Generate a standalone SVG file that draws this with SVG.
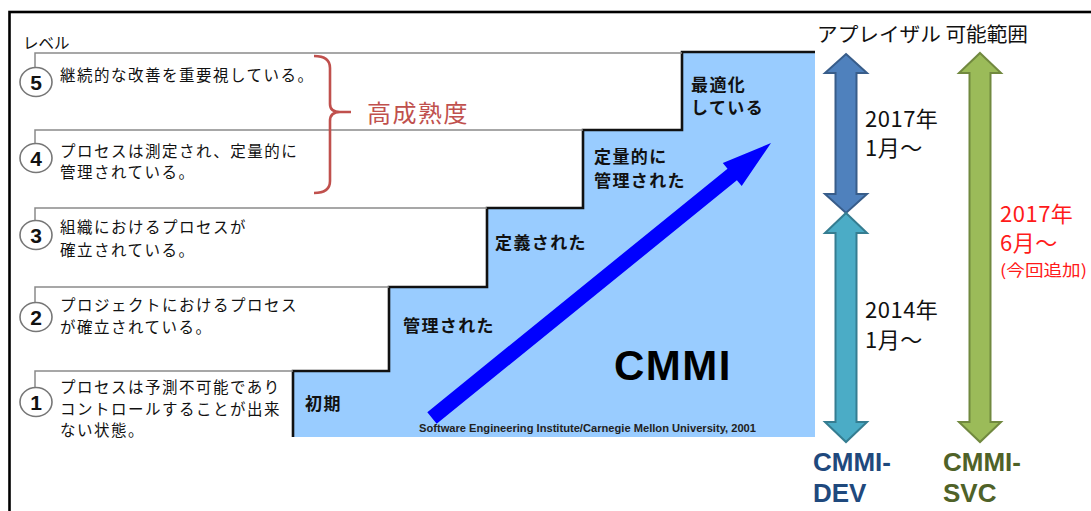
<svg xmlns="http://www.w3.org/2000/svg" width="1091" height="511" viewBox="0 0 1091 511">
<style>
.jp{font-family:'Noto Sans CJK JP',sans-serif;}
.lv{font-family:'Noto Sans CJK JP',sans-serif;font-size:15.5px;letter-spacing:1.5px;fill:#111;}
.st{font-family:'Noto Sans CJK JP',sans-serif;font-size:17px;font-weight:bold;letter-spacing:1.4px;fill:#111;}
.num{font-family:'Liberation Sans',Arial,sans-serif;font-size:21px;font-weight:bold;fill:#111;text-anchor:middle;}
.circ{fill:#fff;stroke:#777;stroke-width:1.6;}
.lvline{fill:none;stroke:#8a8a8a;stroke-width:1.5;}
.dt{font-family:'Noto Sans CJK JP',sans-serif;font-size:22px;fill:#111;letter-spacing:0.5px;}
.red{fill:#ff1a1a;}
.mod{font-family:'Liberation Sans',Arial,sans-serif;font-size:26px;font-weight:bold;}
</style>
<rect x="0" y="0" width="1091" height="511" fill="#fff"/>
<rect x="9.5" y="12" width="1100" height="600" fill="none" stroke="#000" stroke-width="2.6"/>

<g id="staircase">
<polygon points="293,437 293,371 389,371 389,287 487,287 487,208 583,208 583,130 682,130 682,52 815,52 815,437" fill="#99ccff"/>
<path d="M293,437 V371 H389 V287 H487 V208 H583 V130 H682 V52 H815" fill="none" stroke="#111" stroke-width="2.6"/>
<text x="614" y="380" font-family="'Liberation Sans',Arial,sans-serif" font-size="42" font-weight="bold" letter-spacing="1.5" fill="#000">CMMI</text>
<text x="419" y="432" font-family="'Liberation Sans',Arial,sans-serif" font-size="10" font-weight="bold" fill="#222" textLength="337" lengthAdjust="spacingAndGlyphs">Software Engineering Institute/Carnegie Mellon University,  2001</text>
</g>

<g id="level-label"><text x="23" y="49" class="jp" font-size="15.5" fill="#111">レベル</text></g>

<g id="level5">
<path class="lvline" d="M35,68 V53 H682"/>
<ellipse class="circ" cx="36" cy="82" rx="16" ry="14.5"/>
<text class="num" x="36" y="89.5">5</text>
<text class="lv" x="60" y="81">継続的な改善を重要視している。</text>
<text class="st" x="691" y="91">最適化</text>
<text class="st" x="691" y="114">している</text>
</g>

<g id="level4">
<path class="lvline" d="M35,144 V130 H583"/>
<ellipse class="circ" cx="36" cy="158" rx="16" ry="14.5"/>
<text class="num" x="36" y="165.5">4</text>
<text class="lv" x="60" y="157">プロセスは測定され、定量的に</text>
<text class="lv" x="60" y="178">管理されている。</text>
<text class="st" x="594" y="163">定量的に</text>
<text class="st" x="594" y="187">管理された</text>
</g>

<g id="level3">
<path class="lvline" d="M35,221 V208 H487"/>
<ellipse class="circ" cx="36" cy="235" rx="16" ry="14.5"/>
<text class="num" x="36" y="242.5">3</text>
<text class="lv" x="60" y="233">組織におけるプロセスが</text>
<text class="lv" x="60" y="256">確立されている。</text>
<text class="st" x="495" y="249">定義された</text>
</g>

<g id="level2">
<path class="lvline" d="M35,303 V287 H389"/>
<ellipse class="circ" cx="36" cy="317" rx="16" ry="14.5"/>
<text class="num" x="36" y="324.5">2</text>
<text class="lv" x="60" y="311">プロジェクトにおけるプロセス</text>
<text class="lv" x="60" y="333">が確立されている。</text>
<text class="st" x="403" y="332">管理された</text>
</g>

<g id="level1">
<path class="lvline" d="M35,388 V371 H293"/>
<ellipse class="circ" cx="36" cy="402" rx="16" ry="14.5"/>
<text class="num" x="36" y="409.5">1</text>
<text class="lv" x="60" y="393">プロセスは予測不可能であり</text>
<text class="lv" x="60" y="415">コントロールすることが出来</text>
<text class="lv" x="60" y="436">ない状態。</text>
<text class="st" x="305" y="410">初期</text>
</g>

<g id="high-maturity">
<path d="M314,56 Q330,56 330,68 V104 Q330,112 340,112 H351 M340,112 Q330,112 330,121 V181 Q330,193 314,193" fill="none" stroke="#c0504d" stroke-width="2.6"/>
<text x="367" y="122" class="jp" font-size="24" letter-spacing="1.5" fill="#c0504d">高成熟度</text>
</g>

<g id="appraisal-label"><text x="817" y="42" class="jp" font-size="20" fill="#111" textLength="211" lengthAdjust="spacingAndGlyphs">アプレイザル 可能範囲</text></g>

<g id="connectors">
<polygon id="progress-arrow" points="427.3,412.2 727.5,168.7 722.8,162.9 771,143 741.7,186.1 736.9,180.3 436.7,423.8" fill="#0000ff"/>
<polygon id="dev-2017" points="846,54 867,73 856.5,73 856.5,194 867,194 846,213 825,194 835.5,194 835.5,73 825,73" fill="#4f81bd" stroke="#385d8a" stroke-width="2"/>
<polygon id="dev-2014" points="846,213 867,233 856.5,233 856.5,422 867,422 846,442 825,422 835.5,422 835.5,233 825,233" fill="#4bacc6" stroke="#357d91" stroke-width="2"/>
<polygon id="svc" points="980,53 1001,73 990.5,73 990.5,422 1001,422 980,442 959,422 969.5,422 969.5,73 959,73" fill="#9bbb59" stroke="#71893f" stroke-width="2"/>
</g>

<g id="dev-dates">
<text class="dt" x="865" y="127">2017年</text>
<text class="dt" x="865" y="156">1月〜</text>
<text class="dt" x="865" y="318">2014年</text>
<text class="dt" x="865" y="348">1月〜</text>
</g>

<g id="svc-dates">
<text class="dt red" x="1000" y="222">2017年</text>
<text class="dt red" x="1000" y="251">6月〜</text>
<text x="1000" y="276" class="jp red" font-size="16" textLength="87" lengthAdjust="spacingAndGlyphs">(今回追加)</text>
</g>

<g id="cmmi-dev">
<text class="mod" x="813" y="471" fill="#1f497d">CMMI-</text>
<text class="mod" x="813" y="502" fill="#1f497d">DEV</text>
</g>
<g id="cmmi-svc">
<text class="mod" x="943" y="471" fill="#4f6228">CMMI-</text>
<text class="mod" x="943" y="502" fill="#4f6228">SVC</text>
</g>
</svg>
